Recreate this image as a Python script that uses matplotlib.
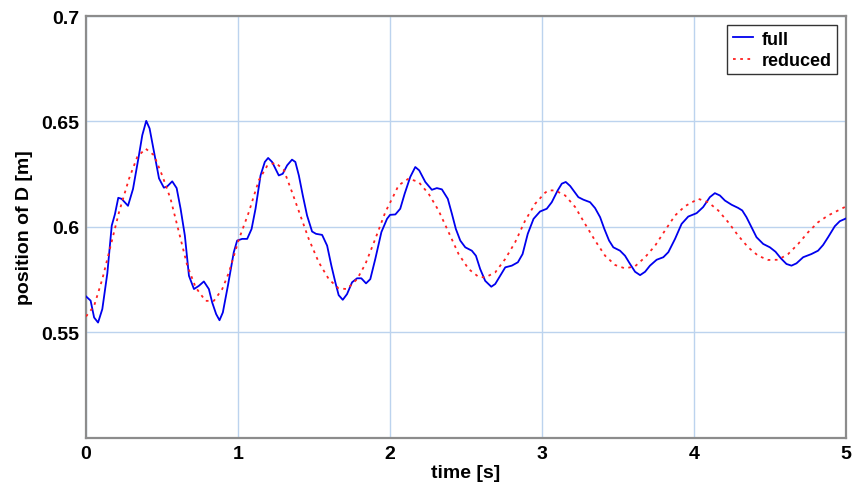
import matplotlib
matplotlib.use('Agg')
import matplotlib.pyplot as plt

plt.rcParams['font.family'] = ['Liberation Sans', 'DejaVu Sans']

# full model response
t_full = [0.0, 0.03, 0.053, 0.079, 0.107, 0.14, 0.169, 0.19, 0.212, 0.234,
          0.276, 0.309, 0.348, 0.37, 0.396, 0.418, 0.447, 0.48, 0.512, 0.534,
          0.567, 0.596, 0.622, 0.65, 0.677, 0.71, 0.742, 0.775, 0.808, 0.83,
          0.856, 0.878, 0.9, 0.933, 0.972, 0.994, 1.027, 1.06, 1.089, 1.115,
          1.148, 1.176, 1.198, 1.224, 1.268, 1.294, 1.323, 1.355, 1.377, 1.4,
          1.426, 1.454, 1.487, 1.513, 1.553, 1.586, 1.614, 1.64, 1.662, 1.689,
          1.717, 1.75, 1.783, 1.811, 1.842, 1.87, 1.903, 1.943, 1.98, 2.0,
          2.035, 2.067, 2.096, 2.133, 2.166, 2.192, 2.232, 2.275, 2.308, 2.341,
          2.38, 2.407, 2.433, 2.462, 2.495, 2.538, 2.565, 2.593, 2.626, 2.666,
          2.692, 2.725, 2.758, 2.801, 2.841, 2.872, 2.906, 2.944, 2.987, 3.031,
          3.064, 3.103, 3.13, 3.156, 3.185, 3.239, 3.272, 3.316, 3.349, 3.382,
          3.41, 3.441, 3.469, 3.513, 3.546, 3.579, 3.612, 3.645, 3.678, 3.71,
          3.754, 3.798, 3.831, 3.875, 3.918, 3.962, 4.017, 4.06, 4.104, 4.137,
          4.17, 4.203, 4.247, 4.29, 4.317, 4.345, 4.378, 4.411, 4.455, 4.499,
          4.536, 4.571, 4.608, 4.641, 4.674, 4.718, 4.772, 4.816, 4.849, 4.882,
          4.926, 4.959, 5.0]
x_full = [0.567, 0.565, 0.557, 0.5546, 0.561, 0.578, 0.6006, 0.606, 0.6138, 0.6133,
          0.610, 0.618, 0.634, 0.6435, 0.6503, 0.6467, 0.6356, 0.623, 0.6186, 0.6192,
          0.6216, 0.6184, 0.6086, 0.5959, 0.5768, 0.5705, 0.572, 0.5741, 0.5705, 0.5641,
          0.5586, 0.5557, 0.5594, 0.572, 0.588, 0.5935, 0.5943, 0.5943, 0.599, 0.6086,
          0.6244, 0.6308, 0.6327, 0.6308, 0.6244, 0.6252, 0.6292, 0.6319, 0.6308, 0.6244,
          0.6149, 0.6054, 0.5978, 0.5967, 0.5962, 0.5911, 0.5816, 0.5737, 0.5676, 0.5654,
          0.5681, 0.5737, 0.5756, 0.5756, 0.5732, 0.5752, 0.5848, 0.5975, 0.6038, 0.6057,
          0.6059, 0.6086, 0.6157, 0.6237, 0.6284, 0.6268, 0.6213, 0.6176, 0.6184, 0.6178,
          0.6133, 0.6062, 0.599, 0.5935, 0.5903, 0.5887, 0.5863, 0.580, 0.5744, 0.5716,
          0.5729, 0.5768, 0.5808, 0.5816, 0.5832, 0.5871, 0.5967, 0.6038, 0.6073, 0.6086,
          0.6117, 0.6173, 0.6205, 0.6213, 0.6194, 0.6141, 0.6129, 0.6117, 0.6089, 0.6046,
          0.599, 0.5935, 0.5903, 0.5887, 0.5863, 0.5824, 0.5787, 0.5771, 0.5787, 0.5816,
          0.5844, 0.5856, 0.588, 0.5943, 0.6014, 0.6049, 0.6065, 0.6094, 0.6141, 0.616,
          0.6149, 0.6125, 0.6105, 0.609, 0.6078, 0.6046, 0.5999, 0.5951, 0.5919, 0.5903,
          0.5882, 0.5851, 0.5824, 0.5816, 0.5827, 0.5856, 0.5871, 0.5887, 0.5914, 0.5951,
          0.6003, 0.6027, 0.604]

# reduced model response
t_red = [0.0, 0.053, 0.107, 0.162, 0.217, 0.283, 0.337, 0.392, 0.447, 0.501,
         0.556, 0.611, 0.666, 0.721, 0.786, 0.841, 0.896, 0.94, 1.005, 1.071,
         1.137, 1.191, 1.246, 1.301, 1.355, 1.41, 1.465, 1.531, 1.597, 1.662,
         1.717, 1.783, 1.838, 1.903, 1.969, 2.035, 2.056, 2.122, 2.188, 2.254,
         2.319, 2.385, 2.451, 2.517, 2.582, 2.626, 2.692, 2.758, 2.823, 2.889,
         2.955, 3.02, 3.042, 3.086, 3.152, 3.218, 3.283, 3.349, 3.415, 3.481,
         3.546, 3.612, 3.678, 3.744, 3.809, 3.875, 3.94, 4.028, 4.093, 4.159,
         4.225, 4.29, 4.356, 4.422, 4.488, 4.553, 4.619, 4.685, 4.751, 4.816,
         4.882, 4.948, 5.0]
x_red = [0.5575, 0.5625, 0.5752, 0.5911, 0.607, 0.6229, 0.6332, 0.6371, 0.634, 0.6244,
         0.6133, 0.5975, 0.5816, 0.5713, 0.5649, 0.5649, 0.5705, 0.5784, 0.594, 0.607,
         0.6222, 0.6289, 0.6305, 0.627, 0.6165, 0.6054, 0.5943, 0.5832, 0.5752, 0.5708,
         0.5705, 0.5752, 0.5824, 0.5943, 0.607, 0.6165, 0.6197, 0.6229, 0.6213, 0.6157,
         0.6078, 0.5975, 0.5871, 0.580, 0.5763, 0.576, 0.5784, 0.5848, 0.5927, 0.603,
         0.611, 0.6162, 0.6173, 0.6173, 0.6149, 0.6094, 0.6014, 0.5935, 0.5863, 0.5819,
         0.5803, 0.5813, 0.5856, 0.5911, 0.5983, 0.6054, 0.6098, 0.6133, 0.6117, 0.6078,
         0.6022, 0.5959, 0.5903, 0.5863, 0.5843, 0.5844, 0.5871, 0.5919, 0.5975, 0.6022,
         0.6054, 0.6078, 0.6097]

x_ticks = [0, 1, 2, 3, 4, 5]
y_ticks = [0.55, 0.6, 0.65, 0.7]
y_labels = ['0.55', '0.6', '0.65', '0.7']

fig = plt.figure(figsize=(8.52, 4.89), dpi=100, facecolor='white')
ax = fig.add_axes([0.101, 0.103, 0.892, 0.862])

ax.plot(t_full, x_full, color='#0000ee', linewidth=1.3, label='full', zorder=3)
ax.plot(t_red, x_red, color='#ff2020', linewidth=1.3, linestyle=(0, (1.5, 2.5)),
        label='reduced', zorder=3)

ax.set_xlim(0, 5)
ax.set_ylim(0.5, 0.7)
ax.set_xticks(x_ticks)
ax.set_yticks(y_ticks)
ax.set_yticklabels(y_labels)
ax.tick_params(length=0, labelsize=14, pad=5)
for lab in ax.get_xticklabels() + ax.get_yticklabels():
    lab.set_fontweight('bold')

ax.grid(True, color='#bcd3ee', linewidth=1.0, zorder=0)
for side in ax.spines.values():
    side.set_color('#8c8c8c')
    side.set_linewidth(1.6)

ax.set_xlabel('time [s]', fontsize=14, fontweight='bold', labelpad=2)
ax.set_ylabel('position of D [m]', fontsize=14, fontweight='bold', labelpad=6)

leg = ax.legend(loc='upper right', fontsize=13, frameon=True, fancybox=False,
                borderpad=0.3, handlelength=1.1, handletextpad=0.5,
                labelspacing=0.25, borderaxespad=0.5)
leg.get_frame().set_edgecolor('black')
leg.get_frame().set_linewidth(1.0)
for txt in leg.get_texts():
    txt.set_fontweight('bold')

fig.savefig('out.png', dpi=100, facecolor='white')
